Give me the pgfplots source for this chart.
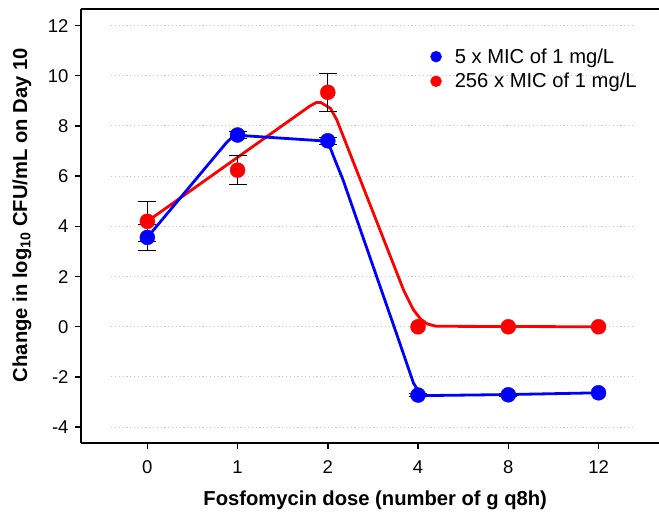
\documentclass[border=0pt]{standalone}
\usepackage{fontspec}
\setmainfont{Liberation Sans}
\usepackage{pgfplots}
\pgfplotsset{compat=1.18}

\definecolor{myblue}{RGB}{0,0,255}
\definecolor{myred}{RGB}{255,0,0}
\definecolor{gridgray}{RGB}{200,200,200}

\pgfplotsset{
  errbar/.style={mark=none, draw=none, forget plot,
    error bars/.cd, y dir=both, y explicit,
    error bar style={black, line width=1pt},
    error mark options={black, line width=1pt, mark size=9pt, rotate=90}},
}

\begin{document}
\begin{tikzpicture}
\begin{axis}[
    scale only axis,
    width=578pt, height=434pt,
    xmin=-0.735, xmax=5.67,
    ymin=-4.63, ymax=12.66,
    axis x line=box,
    axis y line*=left,
    axis line style={line width=1.6pt},
    xtick={0,1,2,3,4,5},
    xticklabels={0,1,2,4,8,12},
    ytick={-4,-2,0,2,4,6,8,10,12},
    tick align=outside,
    major tick length=6pt,
    tick style={line width=1.4pt, black},
    xtick pos=bottom,
    ytick pos=left,
    /pgf/number format/assume math mode=true,
    ticklabel style={font=\fontsize{18.5}{22}\selectfont},
    xticklabel style={yshift=-8pt},
    yticklabel style={xshift=-3pt},
    xlabel={\bfseries Fosfomycin dose (number of g q8h)},
    ylabel={\bfseries Change in log\textsubscript{10} CFU/mL on Day 10},
    label style={font=\fontsize{20.2}{24}\selectfont},
    xlabel style={at={(axis description cs:0.509,-0.131)}, anchor=center},
    ylabel style={at={(axis description cs:-0.102,0.525)}, anchor=center},
    legend style={draw=none, fill=none, at={(axis description cs:0.5937,0.9185)}, anchor=north west,
        font=\fontsize{20.2}{24}\selectfont, row sep=4.5pt},
    legend image code/.code={\path (0pt,0pt) (25pt,0pt);
        \draw[#1, mark size=5.5pt] plot coordinates {(8.5pt,0pt)};},
    legend cell align=left,
    clip=false,
]

% grid lines
\pgfplotsinvokeforeach{-4,-2,0,2,4,6,8,10,12}{
  \addplot[gridgray, line width=1pt, dash pattern=on 1.2pt off 2.6pt, forget plot]
    coordinates {(-0.40,#1) (5.37,#1)};
}

% fitted curves
\addplot[myred, line width=2.8pt, forget plot] coordinates {
  (0,4.2) (1.8,8.79) (1.87,8.93) (1.92,8.94) (2.03,8.70) (2.10,8.24)
  (2.84,1.46) (2.95,0.67) (3.03,0.30) (3.10,0.12) (3.2,0.02) (5,0)
};
\addplot[myblue, line width=2.8pt, forget plot] coordinates {
  (0,3.56) (0.88,7.35) (0.95,7.58) (1.0,7.63) (1.97,7.40) (2.03,7.10) (2.08,6.64)
  (2.17,5.84) (2.76,-0.26) (2.95,-2.25) (3.02,-2.65) (3.1,-2.74) (4,-2.70) (5,-2.63)
};

% error bars (mean +- SD)
\addplot[errbar] coordinates {
  (0,3.56) +- (0,0.52)
  (1,7.64) +- (0,0.12)
  (2,7.41) +- (0,0.15)
  (3,-2.72) +- (0,0.05)
  (4,-2.71) +- (0,0.05)
};
\addplot[errbar] coordinates {
  (0,4.20) +- (0,0.80)
  (1,6.24) +- (0,0.57)
  (2,9.34) +- (0,0.75)
};

% observed means
\addplot[only marks, mark=*, mark size=7.5pt, color=myblue,
    mark options={fill=myblue, draw=myblue}]
coordinates {(0,3.56) (1,7.64) (2,7.41) (3,-2.72) (4,-2.71) (5,-2.63)};
\addlegendentry{5 x MIC of 1 mg/L}

\addplot[only marks, mark=*, mark size=7.5pt, color=myred,
    mark options={fill=myred, draw=myred}]
coordinates {(0,4.20) (1,6.24) (2,9.34) (3,0) (4,0) (5,0)};
\addlegendentry{256 x MIC of 1 mg/L}

\end{axis}
\pgfresetboundingbox
\path ([xshift=-81pt,yshift=-69pt]current axis.south west) rectangle ([yshift=9pt]current axis.north east);
\end{tikzpicture}
\end{document}
